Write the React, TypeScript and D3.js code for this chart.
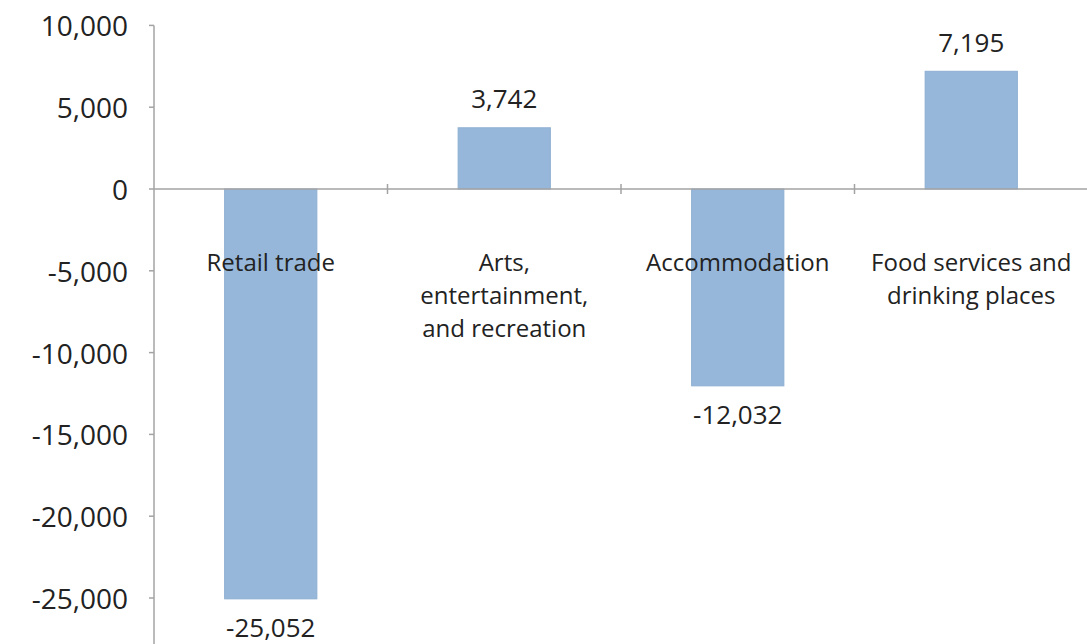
import React from "react";
import * as d3 from "d3";

const categories = ["Retail trade", "Arts, entertainment, and recreation", "Accommodation", "Food services and drinking places"];
const categoryLabelLines = [["Retail trade"], ["Arts,", "entertainment,", "and recreation"], ["Accommodation"], ["Food services and", "drinking places"]];
const values = [-25052, 3742, -12032, 7195];
const yTicks = [10000, 5000, 0, -5000, -10000, -15000, -20000, -25000];

const W = 1087;
const H = 644;

export default function App() {
  const y = d3.scaleLinear().domain([-30000, 10000]).range([189 + 30000 * 0.01636, 189 - 10000 * 0.01636]);
  const x = d3.scaleBand<string>().domain(categories).range([154, 1088]).padding(0);
  const barW = x.bandwidth() * 0.395;
  const f = d3.format(",");
  const fmt = (v: number) => f(v).replace("\u2212", "-");
  const font = "'Open Sans', sans-serif";
  const y0 = y(0);

  return (
    <svg width={W} height={H} style={{ position: "absolute", left: 0, top: 0, background: "#fff" }} fontFamily={font}>
      {values.map((v, i) => {
        const cx = (x(categories[i]) as number) + x.bandwidth() / 2;
        const top = Math.min(y(v), y0);
        const h = Math.abs(y(v) - y0);
        return (
          <g key={i}>
            <rect x={cx - barW / 2} y={top} width={barW} height={h} fill="#96b7da" stroke="#8eafd2" strokeWidth={1} />
            <text x={cx} y={v >= 0 ? y(v) - 29.5 : y(v) + 28.5} textAnchor="middle" dominantBaseline="central" fontSize={26} fill="#222">
              {fmt(v)}
            </text>
          </g>
        );
      })}
      {/* y axis */}
      <line x1={154} x2={154} y1={y(10000)} y2={H} stroke="#a3a3a3" strokeWidth={1.5} />
      {yTicks.map((t) => (
        <g key={t}>
          <line x1={149} x2={154} y1={y(t)} y2={y(t)} stroke="#a3a3a3" strokeWidth={1.5} />
          <text x={128} y={y(t)} textAnchor="end" dominantBaseline="central" fontSize={28} fill="#222">
            {fmt(t)}
          </text>
        </g>
      ))}
      {/* zero line with category ticks */}
      <line x1={154} x2={1088} y1={y0} y2={y0} stroke="#a3a3a3" strokeWidth={1.5} />
      {categories.map((c, i) =>
        i > 0 ? (
          <line key={c} x1={x(c) as number} x2={x(c) as number} y1={y0 - 5} y2={y0 + 5} stroke="#a3a3a3" strokeWidth={1.5} />
        ) : null
      )}
      {categories.map((c, i) => {
        const cx = (x(c) as number) + x.bandwidth() / 2;
        return (
          <text key={c} x={cx} textAnchor="middle" fontSize={24} fill="#222">
            {categoryLabelLines[i].map((ln, j) => (
              <tspan key={j} x={cx} y={271 + j * 33}>
                {ln}
              </tspan>
            ))}
          </text>
        );
      })}
    </svg>
  );
}
